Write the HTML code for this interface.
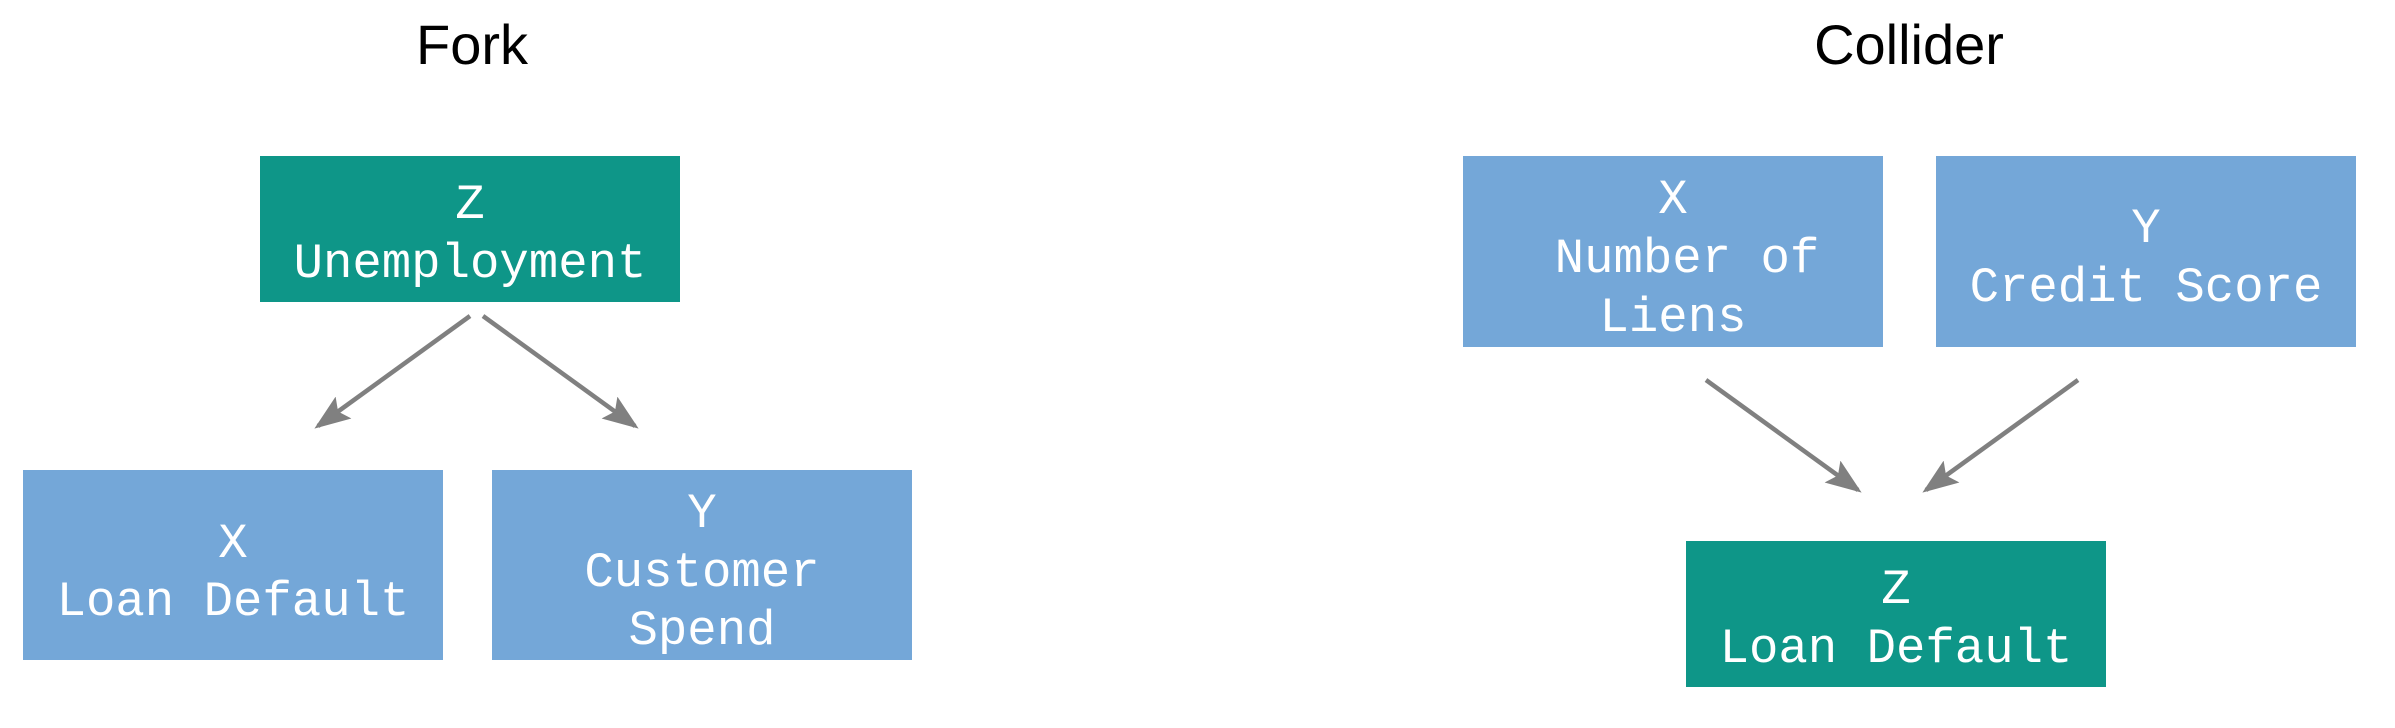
<!DOCTYPE html>
<html><head><meta charset="utf-8"><style>
html,body{margin:0;padding:0;background:#fff;}
svg{display:block;}
.t{font-family:"Liberation Sans",sans-serif;font-size:56px;fill:#000;text-anchor:middle;}
.n{font-family:"Liberation Mono",monospace;font-size:49px;fill:#fff;text-anchor:middle;}
.a{stroke:#808080;stroke-width:4.5;fill:none;}
</style></head><body>
<svg width="2395" height="728" viewBox="0 0 2395 728" xmlns="http://www.w3.org/2000/svg">
<defs><marker id="ah" markerWidth="8" markerHeight="6" refX="7" refY="3" orient="auto" markerUnits="strokeWidth"><path d="M0,0 L8,3 L0,6 L1.5,3 Z" fill="#808080"/></marker></defs>
<g>
<text class="t" x="472" y="64">Fork</text>
<g><rect x="260" y="156" width="420" height="146" fill="#0e9688"/>
<text class="n" x="470" y="218">Z</text><text class="n" x="470" y="277">Unemployment</text></g>
<g><rect x="23" y="470" width="420" height="190" fill="#74a7d8"/>
<text class="n" x="233" y="557">X</text><text class="n" x="233" y="615">Loan Default</text></g>
<g><rect x="492" y="470" width="420" height="190" fill="#74a7d8"/>
<text class="n" x="702" y="527">Y</text><text class="n" x="702" y="586">Customer</text><text class="n" x="702" y="644">Spend</text></g>
<line class="a" x1="470" y1="316" x2="318" y2="426" marker-end="url(#ah)"/>
<line class="a" x1="483" y1="316" x2="635" y2="426" marker-end="url(#ah)"/>
</g>
<g>
<text class="t" x="1909" y="64">Collider</text>
<g><rect x="1463" y="156" width="420" height="191" fill="#74a7d8"/>
<text class="n" x="1673" y="213">X</text><text class="n" x="1687" y="272">Number of</text><text class="n" x="1673" y="331">Liens</text></g>
<g><rect x="1936" y="156" width="420" height="191" fill="#74a7d8"/>
<text class="n" x="2146" y="242">Y</text><text class="n" x="2146" y="301">Credit Score</text></g>
<g><rect x="1686" y="541" width="420" height="146" fill="#0e9688"/>
<text class="n" x="1896" y="603">Z</text><text class="n" x="1896" y="662">Loan Default</text></g>
<line class="a" x1="1706" y1="380" x2="1858" y2="490" marker-end="url(#ah)"/>
<line class="a" x1="2078" y1="380" x2="1926" y2="490" marker-end="url(#ah)"/>
</g>
</svg>
</body></html>
